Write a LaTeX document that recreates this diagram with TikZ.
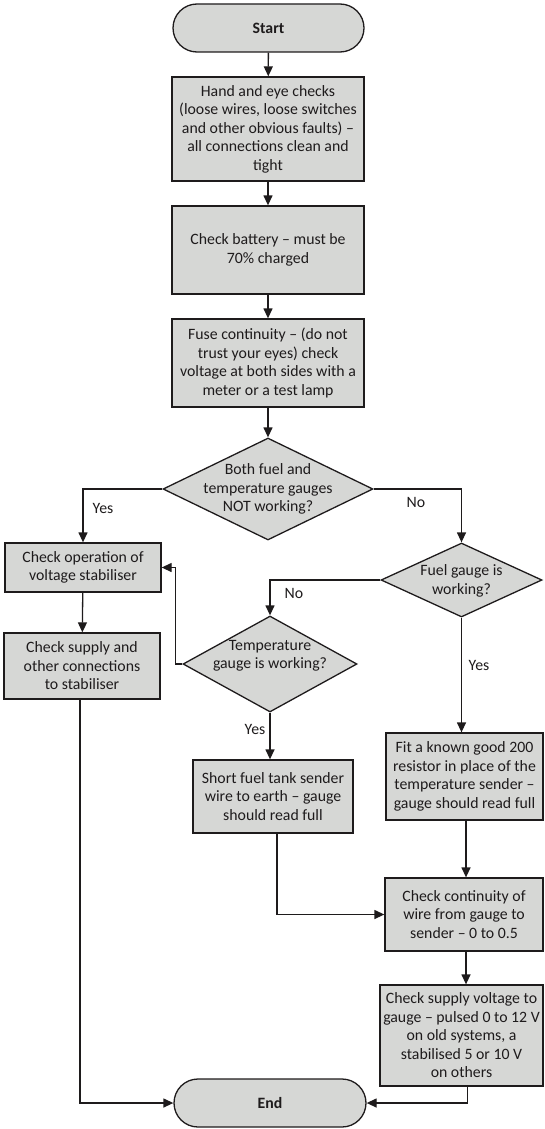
\documentclass[tikz,border=0pt]{standalone}
\usepackage{fontspec}
\setmainfont{Carlito}
\usetikzlibrary{shapes.geometric,arrows.meta,calc}
\definecolor{boxfill}{RGB}{214,215,213}
\definecolor{ink}{RGB}{30,27,28}
\begin{document}
\begin{tikzpicture}[x=1pt,y=-1pt,
  txt/.style={font=\fontsize{15.8}{18.5}\selectfont, text=ink, align=center, inner sep=0pt},
  procbox/.style={txt, draw=ink, line width=1.3pt, fill=boxfill, rectangle},
  decbox/.style={draw=ink, line width=1.3pt, fill=boxfill, diamond, inner sep=0pt},
  termbox/.style={txt, draw=ink, line width=1.3pt, fill=boxfill, rectangle, rounded corners=24pt, font=\fontsize{15.8}{18.5}\selectfont\bfseries},
  arr/.style={draw=ink, line width=1.3pt, -{Triangle[length=10pt,width=9pt]}},
  lab/.style={txt}
]
\useasboundingbox (0,0) rectangle (544,1129);

\node[termbox, minimum width=191, minimum height=48] (start) at (268.5,28) {Start};
\node[procbox, minimum width=192, minimum height=104] (b1) at (268,129) {Hand and eye checks\\(loose wires, loose switches\\and other obvious faults) --\\all connections clean and\\tight};
\node[procbox, minimum width=192, minimum height=88] (b2) at (268,250) {Check battery -- must be\\70\% charged};
\node[procbox, minimum width=192, minimum height=88] (b3) at (268,363) {Fuse continuity -- (do not\\trust your eyes) check\\voltage at both sides with a\\meter or a test lamp};

\node[decbox, minimum width=210, minimum height=102] (d1) at (268,489) {};
\node[txt] (d1t) at (268,489) {Both fuel and\\temperature gauges\\NOT working?};

\node[procbox, minimum width=156, minimum height=49] (opr) at (83,567.5) {Check operation of\\voltage stabiliser};
\node[procbox, minimum width=156, minimum height=66] (sup) at (82,666) {Check supply and\\other connections\\to stabiliser};

\node[decbox, minimum width=161, minimum height=74] (d2) at (461.5,580) {};
\node[txt] (d2t) at (461.5,581) {Fuel gauge is\\working?};

\node[decbox, minimum width=174, minimum height=96] (d3) at (270,664) {};
\node[txt] (d3t) at (270,656) {Temperature\\gauge is working?};

\node[procbox, minimum width=160, minimum height=73] (short) at (273,796.5) {Short fuel tank sender\\wire to earth -- gauge\\should read full};
\node[procbox, minimum width=157, minimum height=87] (fit) at (464.5,776.5) {Fit a known good 200\\resistor in place of the\\temperature sender --\\gauge should read full};
\node[procbox, minimum width=158, minimum height=73] (cont) at (464,914.5) {Check continuity of\\wire from gauge to\\sender -- 0 to 0.5};
\node[procbox, minimum width=163, minimum height=101] (vol) at (461.5,1035.5) {Check supply voltage to\\gauge -- pulsed 0 to 12 V\\on old systems, a\\stabilised 5 or 10 V\\on others};

\node[termbox, minimum width=192, minimum height=48] (endn) at (270,1103) {End};

\draw[arr] (start) -- (b1);
\draw[arr] (b1) -- (b2);
\draw[arr] (b2) -- (b3);
\draw[arr] (b3) -- (d1);
\draw[arr] (d1.west) -| (opr.north);
\draw[arr] (d1.east) -| (d2.north);
\draw[arr] (d2.west) -| (d3.north);
\draw[arr] (d3.west) -- ++(-7,0) |- (opr.east);
\draw[arr] (opr) -- (sup);
\draw[arr] (d2.south) -- (d2.south |- fit.north);
\draw[arr] (d3.south) -- (d3.south |- short.north);
\draw[arr] ([xshift=4pt]short.south) |- (cont.west);
\draw[arr] ([xshift=1.5pt]fit.south) -- ([xshift=1.5pt]fit.south |- cont.north);
\draw[arr] ([xshift=2pt]cont.south) -- ([xshift=2pt]cont.south |- vol.north);
\draw[arr] ([xshift=6pt]vol.south) |- (endn.east);
\draw[arr] ([xshift=-2pt]sup.south) |- (endn.west);

\node[lab] (l1) at (103,508) {Yes};
\node[lab] (l2) at (416,502) {No};
\node[lab] (l3) at (294,593) {No};
\node[lab] (l4) at (479,665) {Yes};
\node[lab] (l5) at (255,729) {Yes};
\end{tikzpicture}
\end{document}
